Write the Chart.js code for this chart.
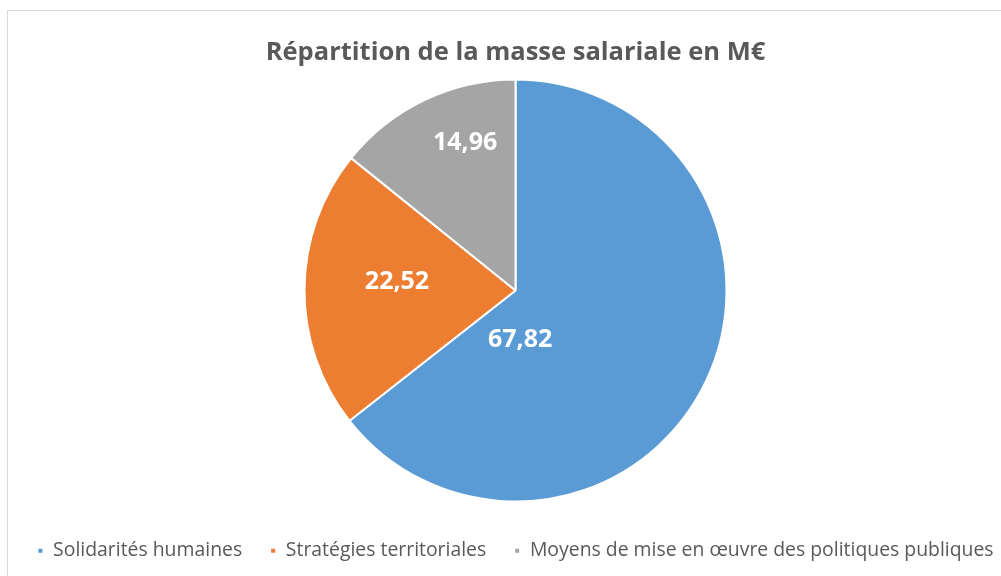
<!DOCTYPE html>
<html>
<head>
<meta charset="utf-8">
<script src="https://cdn.jsdelivr.net/npm/chart.js@4"></script>
<style>
  html, body { margin: 0; padding: 0; background: #ffffff; overflow: hidden; }
  #wrap { position: relative; width: 1001px; height: 576px; overflow: hidden; }
  #frame { position: absolute; left: 7px; top: 10px; width: 1100px; height: 700px; border: 1px solid #d9d9d9; box-sizing: border-box; }
  #box { position: absolute; left: 0; top: 0; width: 1030px; height: 576px; }
</style>
</head>
<body>
<div id="wrap">
  <div id="frame"></div>
  <div id="box"><canvas id="c"></canvas></div>
</div>
<script>
const titleText = "Répartition de la masse salariale en M€";
const categories = ["Solidarités humaines", "Stratégies territoriales", "Moyens de mise en œuvre des politiques publiques"];
const values = [67.82, 22.52, 14.96];
const colors = ["#5B9BD5", "#ED7D31", "#A5A5A5"];

// label placement (angle shift from slice middle in degrees, fraction of radius)
const labelPlacement = [
  { shift: 58.8, frac: 0.236 },
  { shift: 3.7, frac: 0.563 },
  { shift: 6.8, frac: 0.741 }
];

const valueLabels = {
  id: 'valueLabels',
  afterDatasetsDraw(chart) {
    const ctx = chart.ctx;
    const meta = chart.getDatasetMeta(0);
    ctx.save();
    ctx.fillStyle = '#ffffff';
    ctx.font = 'bold 25px "Open Sans"';
    ctx.textAlign = 'center';
    ctx.textBaseline = 'middle';
    meta.data.forEach((arc, i) => {
      const p = arc.getProps(['x', 'y', 'startAngle', 'endAngle', 'outerRadius'], true);
      const mid = (p.startAngle + p.endAngle) / 2 + labelPlacement[i].shift * Math.PI / 180;
      const r = p.outerRadius * labelPlacement[i].frac;
      const txt = values[i].toFixed(2).replace('.', ',');
      ctx.fillText(txt, p.x + Math.cos(mid) * r, p.y + Math.sin(mid) * r);
    });
    ctx.restore();
  }
};

new Chart(document.getElementById('c'), {
  type: 'pie',
  data: {
    labels: categories,
    datasets: [{
      data: values,
      backgroundColor: colors,
      borderColor: '#ffffff',
      borderWidth: 2
    }]
  },
  options: {
    responsive: true,
    maintainAspectRatio: false,
    animation: false,
    radius: 211,
    layout: { padding: { left: 1, right: 0, top: 0, bottom: 5.6 } },
    plugins: {
      title: {
        display: true,
        text: titleText,
        color: '#595959',
        font: { family: '"Open Sans"', size: 25.5, weight: 'bold', lineHeight: 1.2 },
        padding: { top: 37.2, bottom: 0.2 }
      },
      legend: {
        position: 'bottom',
        labels: {
          color: '#595959',
          font: { family: '"Open Sans"', size: 19.4 },
          boxWidth: 6,
          boxHeight: 6,
          padding: 28
        }
      },
      tooltip: { enabled: false }
    }
  },
  plugins: [valueLabels]
});
</script>
</body>
</html>
